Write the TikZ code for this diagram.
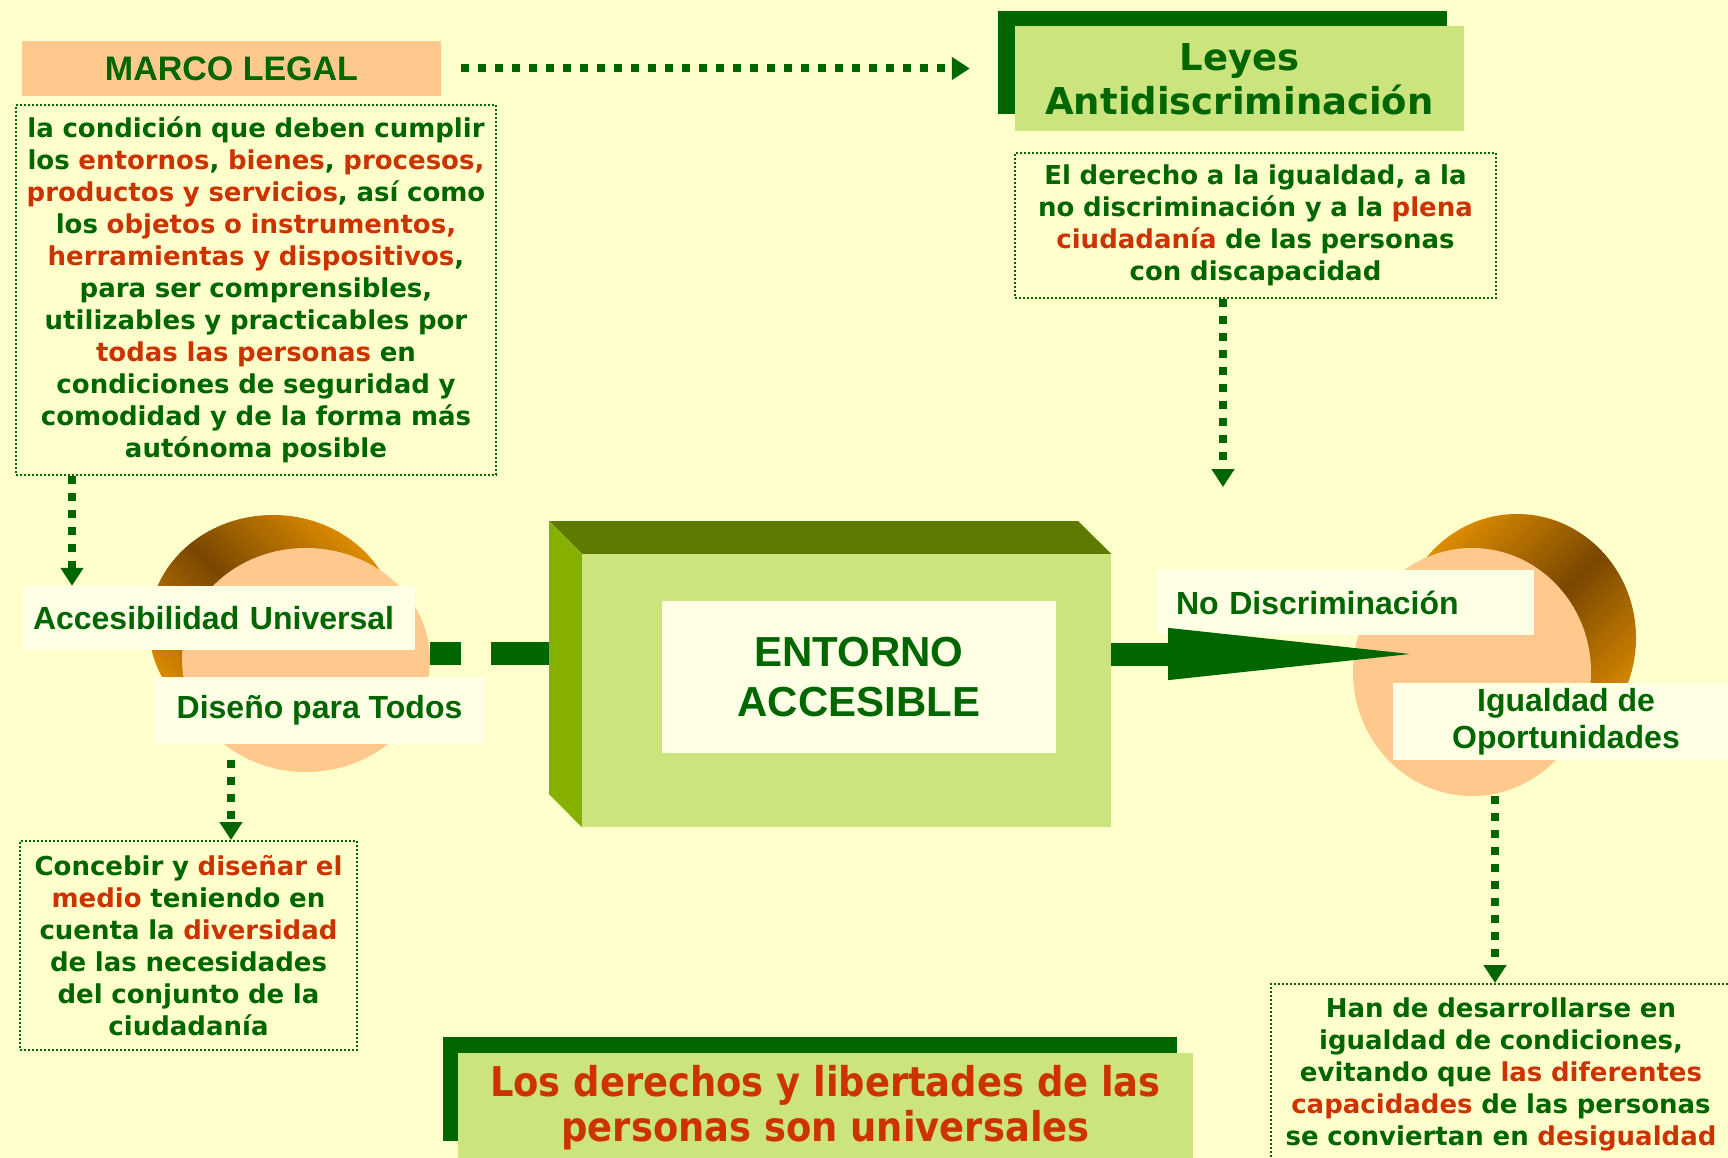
\documentclass[tikz,border=0pt]{standalone}
\usepackage{fontspec}
\setmainfont{DejaVu Sans}
\newfontfamily\verdana{DejaVu Sans}
\newfontfamily\arial{Liberation Sans}
\newfontfamily\tahoma{DejaVu Sans Condensed}
\usetikzlibrary{arrows.meta,shapes.geometric}

\definecolor{bgyellow}{HTML}{FFFFCC}
\definecolor{dkgreen}{HTML}{006600}
\definecolor{txtred}{HTML}{CC3300}
\definecolor{peach}{HTML}{FFC88C}
\definecolor{lgreen}{HTML}{CCE47E}
\definecolor{olivetop}{HTML}{5F7A00}
\definecolor{oliveside}{HTML}{86B000}
\definecolor{labelfill}{HTML}{FFFFE6}
\definecolor{brownd}{HTML}{7A4700}
\definecolor{browno}{HTML}{DD8C00}

\newcommand{\rd}[1]{\textcolor{txtred}{#1}}

\begin{document}
\begin{tikzpicture}[x=1pt,y=-1pt,
  dotbox/.style={draw=dkgreen,line width=2pt,dash pattern=on 2pt off 2pt,align=center,
    text=dkgreen,inner sep=0pt,font=\verdana\bfseries\fontsize{26}{32}\selectfont},
  lbl/.style={fill=labelfill,inner sep=0pt,text=dkgreen,align=center,
    font=\arial\bfseries\fontsize{32}{37}\selectfont},
  dotarrow/.style={dkgreen,line width=8pt,dash pattern=on 8pt off 9pt,
    -{Triangle[length=18pt,width=22pt]}},
  ring/.style={ellipse,inner sep=0pt,minimum width=248pt,minimum height=224pt},
]

\useasboundingbox (0,0) rectangle (1728,1158);
\fill[bgyellow] (0,0) rectangle (1728,1158);
\clip (0,0) rectangle (1728,1158);

% marco legal
\node[fill=peach,minimum width=419pt,minimum height=55pt,inner sep=0pt,text=dkgreen,
  font=\arial\bfseries\fontsize{34}{40}\selectfont] (legal) at (231.5,68.5) {MARCO LEGAL};
\node[dotbox,text width=480pt,minimum height=370pt] (box1) at (256,290)
 {la condición que deben cumplir\\
  los \rd{entornos}, \rd{bienes}, \rd{procesos,}\\
  \rd{productos y servicios}, así como\\
  los \rd{objetos o instrumentos,}\\
  \rd{herramientas y dispositivos},\\
  para ser comprensibles,\\
  utilizables y practicables por\\
  \rd{todas las personas} en\\
  condiciones de seguridad y\\
  comodidad y de la forma más\\
  autónoma posible};

% leyes
\node[fill=dkgreen,minimum width=449pt,minimum height=103pt,inner sep=0pt] (leyesback) at (1222.5,62.5) {};
\node[fill=lgreen,minimum width=449pt,minimum height=105pt,inner sep=0pt,text=dkgreen,align=center,
  font=\verdana\bfseries\fontsize{37}{44}\selectfont] (leyes) at (1239.5,79) {Leyes\\Antidiscriminación};
\node[dotbox,text width=481pt,minimum height=145pt] (box2) at (1255.5,225.5)
 {El derecho a la igualdad, a la\\
  no discriminación y a la \rd{plena}\\
  \rd{ciudadanía} de las personas\\
  con discapacidad};

% lower boxes
\node[dotbox,text width=337pt,minimum height=209pt] (box3) at (188.5,945.5)
 {Concebir y \rd{diseñar el}\\
  \rd{medio} teniendo en\\
  cuenta la \rd{diversidad}\\
  de las necesidades\\
  del conjunto de la\\
  ciudadanía};
\node[dotbox,text width=460pt,minimum height=181pt] (box4) at (1501,1074.5)
 {Han de desarrollarse en\\
  igualdad de condiciones,\\
  evitando que \rd{las diferentes}\\
  \rd{capacidades} de las personas\\
  se conviertan en \rd{desigualdad}};

\node[fill=dkgreen,minimum width=734pt,minimum height=104pt,inner sep=0pt] (derback) at (810,1089) {};
\node[fill=lgreen,minimum width=735pt,minimum height=109pt,inner sep=0pt,text=txtred,align=center,
  font=\tahoma\bfseries\fontsize{41}{45}\selectfont] (derechos) at (825.5,1107.5)
 {Los derechos y libertades de las\\personas son universales};

% circles
\node[ring,left color=browno,right color=browno,middle color=brownd,shading angle=-45] (brownL) at (273,627) {};
\node[ring,fill=peach] (peachL) at (306,660) {};
\node[ring,left color=browno,right color=browno,middle color=brownd,shading angle=45,
  minimum width=238pt,minimum height=248pt] (brownR) at (1517,638) {};
\node[ring,fill=peach,minimum width=238pt,minimum height=248pt] (peachR) at (1472,672) {};

\coordinate (midL) at (0,653);
\coordinate (arrA) at (72,0);
\coordinate (arrB) at (1223,0);
\coordinate (arrC) at (231,0);
\coordinate (arrD) at (1495,0);
\coordinate (leyesend) at (1223,487);
\coordinate (noTip) at (1445,654);

% dotted arrows
\draw[dotarrow,shorten <=20pt,shorten >=28pt] (legal.east) -- (legal.east -| leyesback.west);
\draw[dotarrow] (box2.south -| arrB) -- (leyesend);
\draw[dotarrow] (peachR.south -| arrD) -- (box4.north -| arrD);

% thick dashes into block
\draw[dkgreen,line width=23pt,dash pattern=on 31pt off 30pt on 90pt] (peachL.east |- midL) -- (582,653);

% block
\node[fill=lgreen,minimum width=529pt,minimum height=273pt,inner sep=0pt] (block) at (846.5,690.5) {};
\fill[olivetop] (549,521) -- (1078,521) -- (block.north east) -- (block.north west) -- cycle;
\fill[oliveside] (549,521) -- (block.north west) -- (block.south west) -- (549,794) -- cycle;
\node[fill=labelfill,minimum width=394pt,minimum height=152pt,inner sep=0pt,text=dkgreen,align=center,
  font=\arial\bfseries\fontsize{42}{50}\selectfont] (entorno) at (859,677) {ENTORNO\\ACCESIBLE};

% labels
\node[lbl,text width=371pt,inner xsep=11pt,minimum height=64pt,align=left] (accU) at (218.5,618) {Accesibilidad Universal};
\node[lbl,minimum width=331pt,minimum height=67pt] (disT) at (319.5,710.5) {Diseño para Todos};
\node[lbl,minimum height=65pt,text width=339pt,inner xsep=19pt,align=left] (noD) at (1345.5,602.5) {No Discriminación};
\node[lbl,minimum width=346pt,minimum height=77pt] (igO) at (1566,721.5) {Igualdad de\\Oportunidades};

\draw[dotarrow] (box1.south -| arrA) -- (accU.north -| arrA);
\draw[dotarrow,shorten <=16pt] (disT.south -| arrC) -- (box3.north -| arrC);

% big arrow
\draw[dkgreen,line width=23pt,-{Triangle[length=277pt,width=45pt]}] (block.east |- noTip) -- (noTip);

\end{tikzpicture}
\end{document}
